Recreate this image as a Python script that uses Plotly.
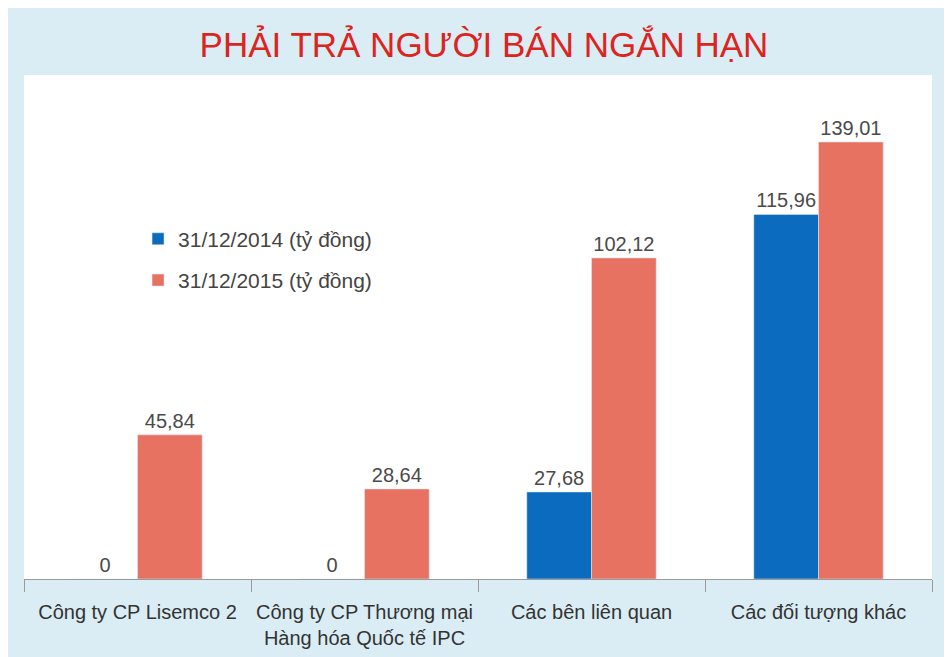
import plotly.graph_objects as go

categories = ["Công ty CP Lisemco 2", "Công ty CP Thương mại<br>Hàng hóa Quốc tế IPC",
              "Các bên liên quan", "Các đối tượng khác"]
series_2014 = [0, 0, 27.68, 115.96]
series_2015 = [45.84, 28.64, 102.12, 139.01]
names = ["31/12/2014 (tỷ đồng)", "31/12/2015 (tỷ đồng)"]
title = "PHẢI TRẢ NGƯỜI BÁN NGẮN HẠN"


def fmt(v):
    if v == 0:
        return "0"
    return f"{v:.2f}".replace(".", ",")


fig = go.Figure()
fig.add_trace(go.Bar(x=categories, y=series_2014, name=names[0], marker_color="#0b6cbf",
                     legendgroup="a",
                     text=[fmt(v) for v in series_2014], textposition="outside",
                     textfont=dict(size=20, color="#4a4a4a"), cliponaxis=False))
fig.add_trace(go.Bar(x=categories, y=series_2015, name=names[1], marker_color="#e87262",
                     legendgroup="b",
                     text=[fmt(v) for v in series_2015], textposition="outside",
                     textfont=dict(size=20, color="#4a4a4a"), cliponaxis=False))

fig.update_layout(
    width=952, height=657,
    paper_bgcolor="#daedf4", plot_bgcolor="#ffffff",
    margin=dict(l=16, r=28, t=67, b=86),
    barmode="group", bargap=0.43, bargroupgap=0,
    font=dict(family="Liberation Sans, Arial, sans-serif", color="#333"),
    title=dict(text=title, x=0.5, xanchor="center", y=0.944, yanchor="middle",
               font=dict(family="Liberation Sans, Arial, sans-serif",
                         size=35, color="#dc2420")),
    legend=dict(x=0.1256, y=0.715, xanchor="left", yanchor="top", bgcolor="rgba(0,0,0,0)",
                font=dict(size=21, color="#444"), traceorder="grouped", tracegroupgap=11),
    showlegend=True,
)
fig.update_xaxes(showline=True, linecolor="#9a9a9a", linewidth=1, ticks="outside",
                 tickson="boundaries", ticklen=12, tickcolor="#9a9a9a",
                 tickfont=dict(size=20, color="#333"), ticklabelstandoff=15,
                 showgrid=False)
fig.update_yaxes(visible=False, range=[0, 160.3], showgrid=False)

fig.write_html("out.html")
